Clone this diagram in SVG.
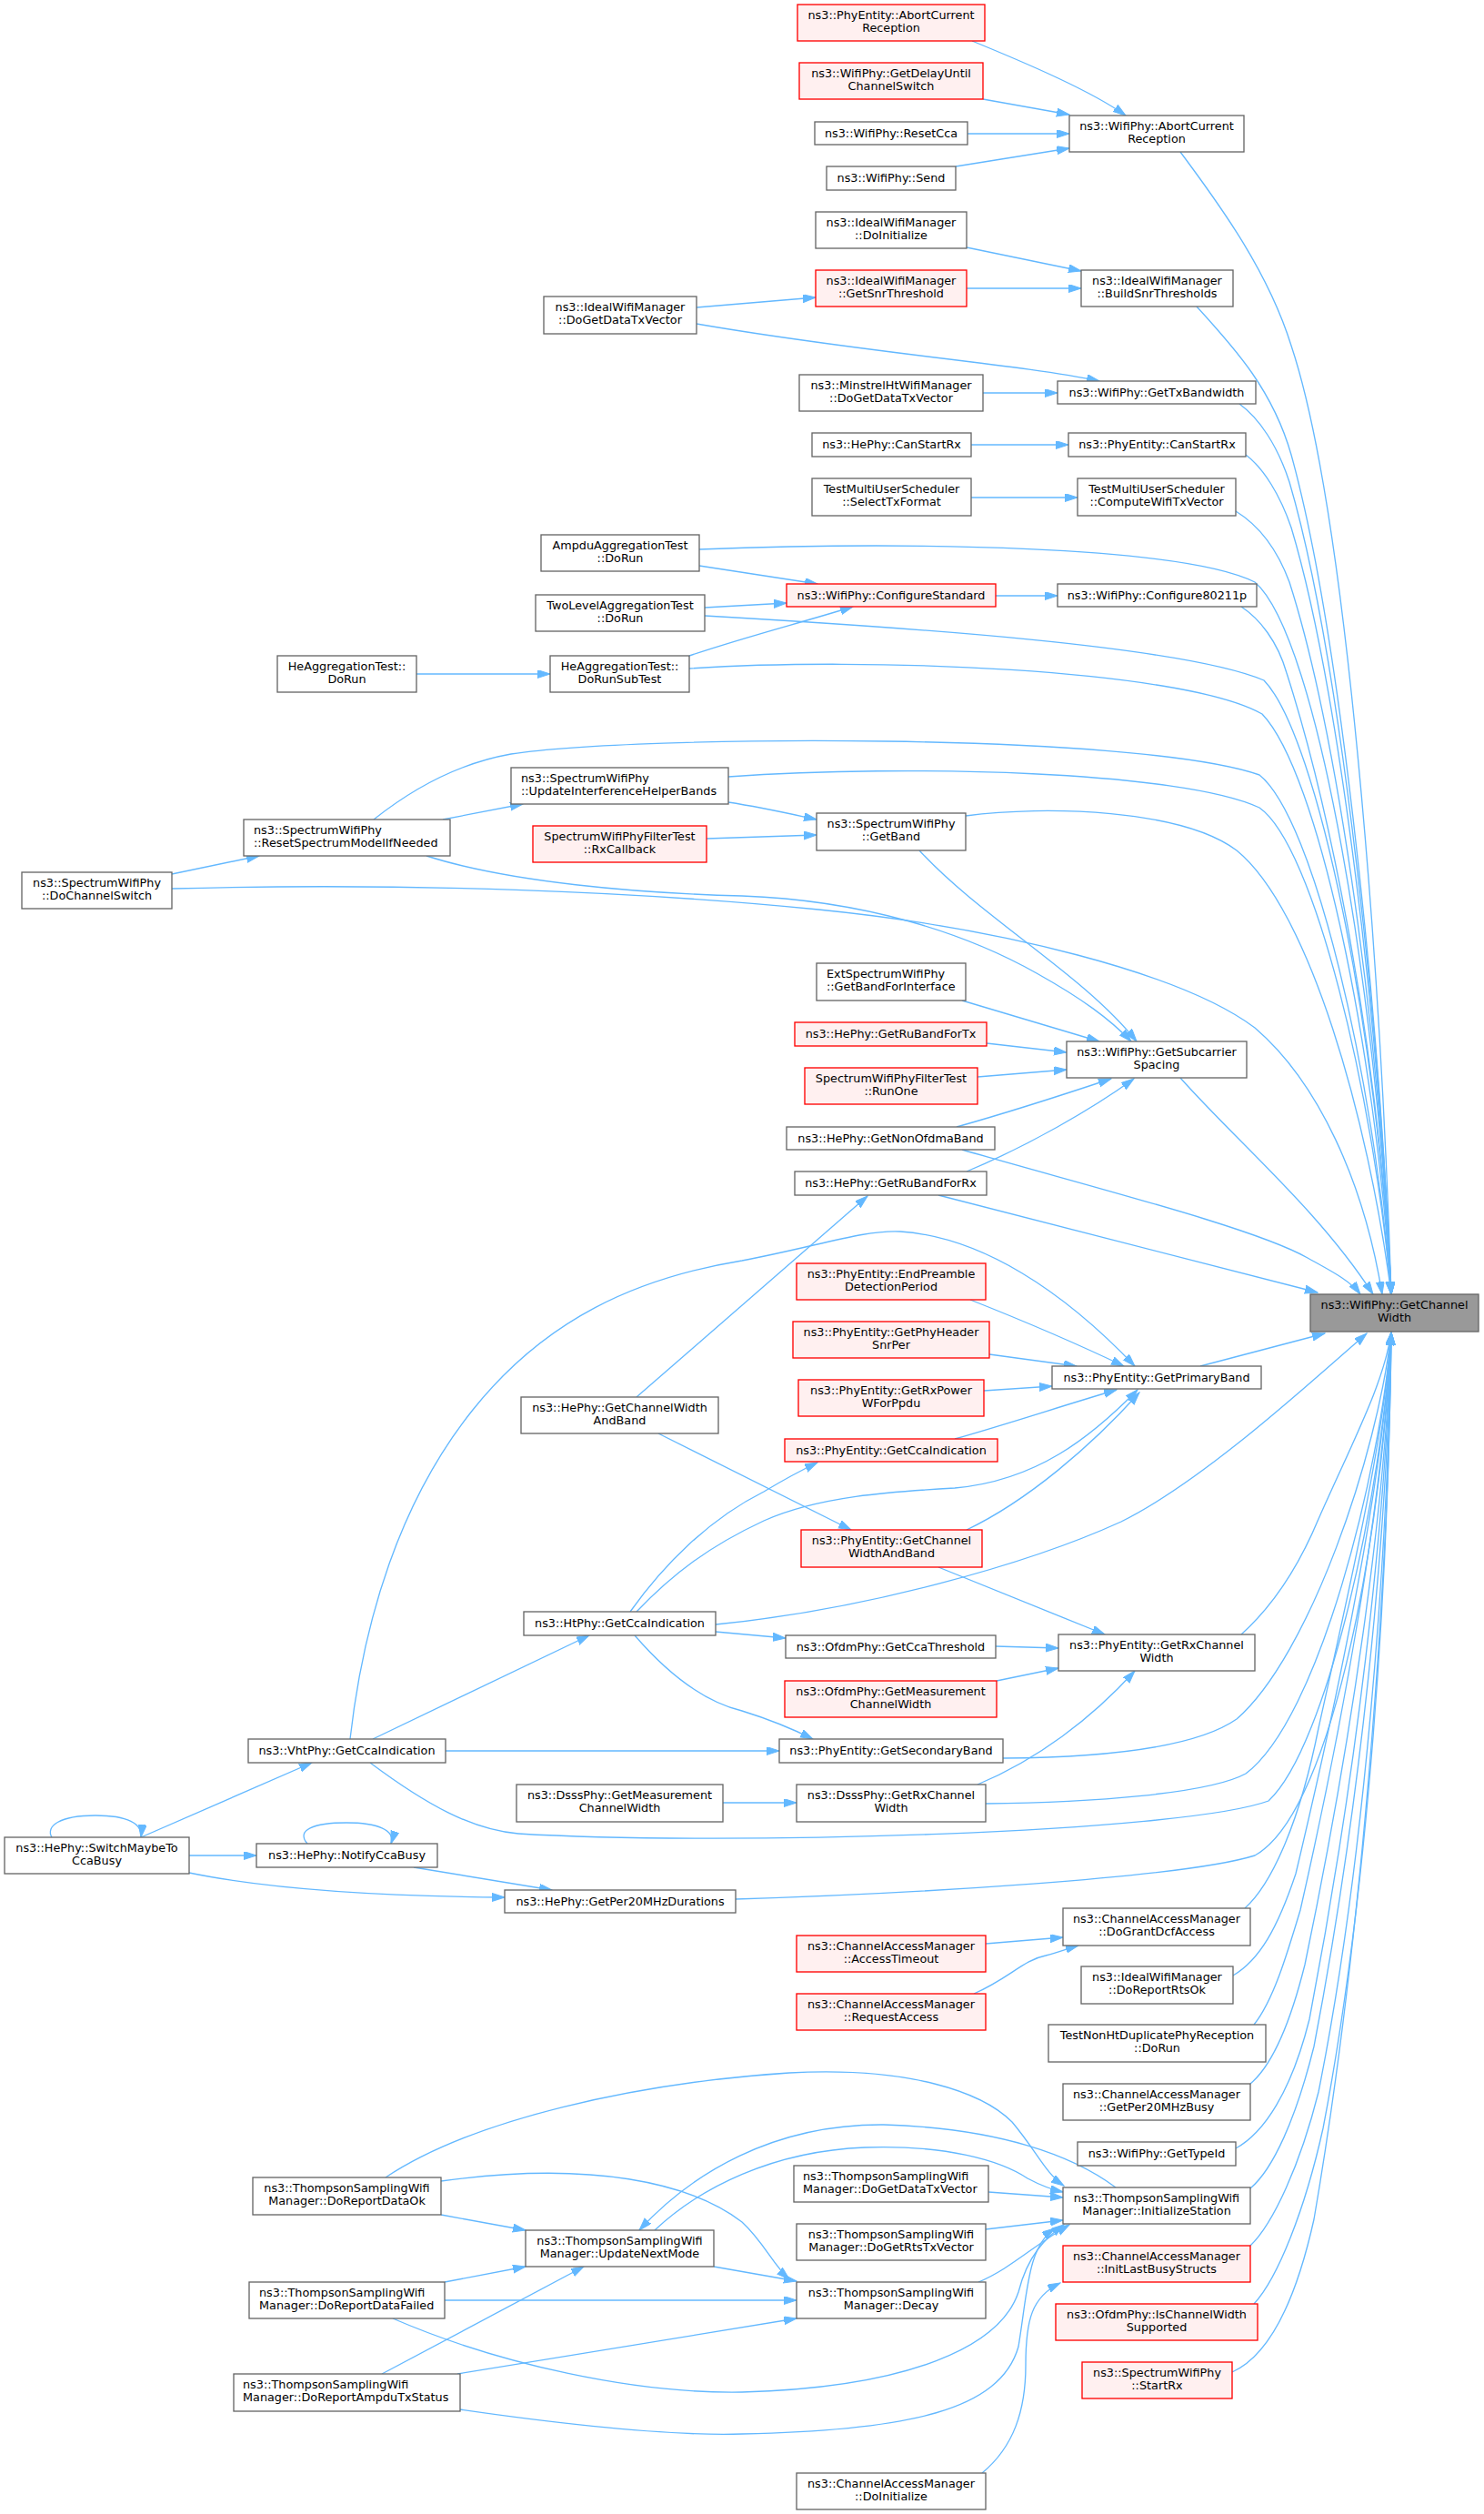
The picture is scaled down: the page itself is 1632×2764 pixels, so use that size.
<svg xmlns="http://www.w3.org/2000/svg" width="1632" height="2764" viewBox="0 0 1632 2764">
<style>
.n rect{fill:#ffffff;stroke:#666666;stroke-width:1.33}
.r rect{fill:#fff0f0;stroke:#ff0000;stroke-width:1.33}
.g rect{fill:#999999;stroke:#666666;stroke-width:1.33}
text{font-family:"DejaVu Sans","Liberation Sans",Arial,sans-serif;font-size:12.8px;fill:#000000;text-anchor:middle}
text.l{text-anchor:start}
#edges path{fill:none;stroke:#63b8ff;stroke-width:1.33;marker-end:url(#ah)}
</style>
<defs>
<marker id="ah" markerUnits="userSpaceOnUse" markerWidth="15" markerHeight="10" refX="14" refY="4.5" orient="auto" viewBox="0 0 15 10"><path d="M0,0 L14,4.5 L0,9 z" fill="#63b8ff" stroke="#63b8ff" stroke-width="1"/></marker>
</defs>
<rect x="0" y="0" width="1632" height="2764" fill="#ffffff"/>
<g id="edges">
<path d="M1298,167 C1345,230 1395,300 1420,380 C1480,560 1518,1050 1530,1423"/>
<path d="M1316,337 C1360,385 1400,430 1420,500 C1470,680 1515,1080 1530,1423"/>
<path d="M1363,444 C1385,460 1405,490 1418,530 C1468,700 1515,1080 1530,1423"/>
<path d="M1370,500 C1390,515 1408,545 1420,580 C1468,740 1515,1090 1530,1423"/>
<path d="M1359,562 C1385,578 1405,605 1418,640 C1466,790 1515,1100 1530,1423"/>
<path d="M769,604 C1000,595 1300,600 1380,640 C1450,700 1515,1100 1530,1423"/>
<path d="M1365,667 C1385,680 1405,705 1415,740 C1460,880 1515,1140 1530,1423"/>
<path d="M775,677 C1000,690 1300,710 1390,748 C1450,810 1515,1140 1530,1423"/>
<path d="M758,735 C950,722 1300,735 1388,785 C1450,850 1512,1150 1530,1423"/>
<path d="M411,901 C450,870 500,840 562,829 C700,808 1250,805 1385,852 C1445,900 1510,1180 1530,1423"/>
<path d="M801,854 C1000,840 1300,848 1385,888 C1445,930 1510,1200 1530,1423"/>
<path d="M1062,897 C1150,885 1300,890 1360,935 C1440,1000 1505,1230 1530,1423"/>
<path d="M189,977 C450,970 700,980 900,1000 C1100,1020 1300,1070 1380,1130 C1450,1190 1500,1300 1520,1423"/>
<path d="M1298,1185 C1360,1255 1450,1330 1510,1423"/>
<path d="M1058,1264 C1200,1305 1380,1350 1438,1383 C1465,1398 1485,1408 1496,1423"/>
<path d="M1032,1314 L1449,1421"/>
<path d="M1320,1502 L1457,1466"/>
<path d="M787,1786 C950,1770 1130,1720 1233,1673 C1320,1630 1430,1530 1503,1466"/>
<path d="M1365,1797 C1395,1770 1425,1730 1450,1670 C1490,1580 1522,1520 1530,1465"/>
<path d="M1103,1933 C1230,1932 1320,1918 1360,1890 C1440,1820 1515,1600 1530,1465"/>
<path d="M1084,1983 C1200,1982 1330,1972 1370,1950 C1450,1890 1518,1620 1530,1465"/>
<path d="M407,1938 C470,1985 520,2012 570,2016 C800,2030 1300,2015 1395,1980 C1460,1920 1520,1640 1530,1465"/>
<path d="M809,2088 C1000,2082 1300,2065 1380,2040 C1470,1990 1522,1660 1530,1465"/>
<path d="M1369,2098 C1400,2070 1430,2000 1450,1900 C1490,1720 1522,1580 1530,1465"/>
<path d="M1356,2172 C1385,2155 1405,2120 1425,2060 C1475,1850 1522,1620 1530,1465"/>
<path d="M1379,2226 C1400,2200 1415,2150 1430,2100 C1480,1880 1522,1640 1530,1465"/>
<path d="M1375,2291 C1400,2270 1420,2220 1435,2160 C1485,1920 1524,1660 1530,1465"/>
<path d="M1359,2362 C1390,2345 1420,2300 1440,2220 C1490,1960 1524,1680 1530,1465"/>
<path d="M1375,2406 C1400,2385 1425,2330 1445,2250 C1495,1990 1525,1700 1530,1465"/>
<path d="M1375,2469 C1400,2445 1430,2380 1450,2300 C1500,2050 1526,1720 1530,1465"/>
<path d="M1379,2533 C1405,2505 1435,2430 1455,2340 C1505,2080 1527,1740 1530,1465"/>
<path d="M1355,2608 C1395,2590 1425,2530 1445,2440 C1495,2150 1527,1760 1530,1465"/>
<path d="M1069,45 C1130,70 1200,100 1238,127"/>
<path d="M1081,109 L1176,126"/>
<path d="M1064,147 L1176,147"/>
<path d="M1051,183 L1176,163"/>
<path d="M1063,272 L1189,298"/>
<path d="M1063,317 L1189,317"/>
<path d="M766,338 L897,327"/>
<path d="M766,356 C950,388 1120,400 1209,419"/>
<path d="M1081,432 L1163,432"/>
<path d="M1068,489 L1175,489"/>
<path d="M1068,547 L1185,547"/>
<path d="M769,622 C820,630 860,636 899,642"/>
<path d="M775,668 L865,663"/>
<path d="M758,721 C820,700 880,685 938,667"/>
<path d="M458,741 L605,741"/>
<path d="M1095,655 L1163,655"/>
<path d="M487,901 L575,884"/>
<path d="M189,961 L285,941"/>
<path d="M801,882 C840,888 870,895 898,901"/>
<path d="M777,922 C830,920 870,919 898,918"/>
<path d="M1011,935 C1080,1010 1190,1070 1250,1145"/>
<path d="M469,941 C560,970 700,982 816,985 C950,990 1060,1025 1140,1070 C1190,1098 1220,1120 1244,1145"/>
<path d="M1058,1100 L1209,1145"/>
<path d="M1085,1147 L1173,1157"/>
<path d="M1075,1184 L1173,1176"/>
<path d="M1052,1239 C1120,1220 1180,1200 1222,1186"/>
<path d="M1063,1288 C1130,1260 1200,1220 1247,1186"/>
<path d="M700,1536 L954,1315"/>
<path d="M385,1912 C400,1780 440,1650 520,1550 C600,1450 700,1405 816,1386 C900,1370 950,1352 990,1354 C1080,1360 1170,1420 1248,1502"/>
<path d="M1067,1429 C1120,1450 1190,1480 1236,1502"/>
<path d="M1088,1489 L1184,1502"/>
<path d="M1082,1529 L1157,1524"/>
<path d="M1050,1582 C1110,1565 1170,1545 1228,1528"/>
<path d="M700,1772 C740,1730 780,1700 840,1672 C900,1645 980,1640 1050,1636 C1140,1628 1200,1580 1251,1528"/>
<path d="M1063,1682 C1130,1650 1200,1590 1253,1531"/>
<path d="M693,1772 C730,1720 780,1670 840,1640 C860,1628 880,1617 899,1608"/>
<path d="M724,1576 L936,1682"/>
<path d="M1032,1723 L1215,1797"/>
<path d="M1095,1810 L1164,1812"/>
<path d="M787,1794 L864,1801"/>
<path d="M1096,1848 L1164,1834"/>
<path d="M410,1912 L648,1798"/>
<path d="M698,1798 C730,1835 770,1870 816,1881 C845,1890 870,1900 894,1912"/>
<path d="M490,1925 L857,1925"/>
<path d="M1075,1962 C1140,1935 1200,1890 1248,1837"/>
<path d="M795,1982 L876,1982"/>
<path d="M155,2020 L343,1938"/>
<path d="M57,2020 C50,2008 65,1996 105,1996 C140,1996 157,2005 155,2020"/>
<path d="M208,2040 L282,2040"/>
<path d="M338,2027 C325,2012 345,2004 381,2004 C415,2004 435,2012 430,2027"/>
<path d="M455,2053 L607,2078"/>
<path d="M208,2059 C300,2078 430,2085 555,2086"/>
<path d="M1084,2137 L1169,2130"/>
<path d="M1071,2192 C1110,2175 1125,2155 1150,2150 C1165,2146 1175,2142 1186,2139"/>
<path d="M424,2394 C520,2330 700,2290 868,2279 C1000,2272 1080,2300 1113,2333 C1140,2365 1150,2390 1170,2403"/>
<path d="M485,2435 L578,2452"/>
<path d="M485,2398 C650,2375 760,2400 816,2443 C840,2465 850,2490 868,2506"/>
<path d="M785,2492 L876,2508"/>
<path d="M720,2452 C770,2405 850,2365 951,2361 C1040,2358 1100,2375 1130,2395 C1145,2403 1155,2407 1169,2410"/>
<path d="M1227,2405 C1180,2370 1100,2340 972,2336 C850,2335 760,2390 703,2452"/>
<path d="M489,2509 L578,2492"/>
<path d="M489,2529 L876,2529"/>
<path d="M432,2549 C550,2600 700,2632 816,2630 C1000,2625 1100,2580 1120,2520 C1130,2480 1150,2460 1170,2446"/>
<path d="M420,2610 L642,2492"/>
<path d="M503,2610 L876,2549"/>
<path d="M505,2649 C650,2670 750,2678 816,2676 C1000,2672 1100,2650 1120,2580 C1130,2520 1130,2470 1160,2450"/>
<path d="M1076,2509 C1110,2495 1135,2470 1176,2446"/>
<path d="M1087,2410 L1169,2416"/>
<path d="M1084,2451 L1169,2441"/>
<path d="M1080,2719 C1115,2690 1128,2650 1128,2600 C1128,2550 1135,2525 1166,2510"/>
</g>
<g id="n_pe_abort" class="r"><rect x="877" y="5" width="206" height="40"/><text x="980" y="21">ns3::PhyEntity::AbortCurrent</text><text x="980" y="35.3">Reception</text></g>
<g id="n_delay" class="r"><rect x="879" y="69" width="202" height="40"/><text x="980" y="85">ns3::WifiPhy::GetDelayUntil</text><text x="980" y="99.3">ChannelSwitch</text></g>
<g id="n_resetcca" class="n"><rect x="896" y="134" width="168" height="25"/><text x="980" y="150.5">ns3::WifiPhy::ResetCca</text></g>
<g id="n_send" class="n"><rect x="909" y="183" width="142" height="26"/><text x="980" y="199.8">ns3::WifiPhy::Send</text></g>
<g id="n_wp_abort" class="n"><rect x="1176" y="127" width="192" height="40"/><text x="1272" y="143">ns3::WifiPhy::AbortCurrent</text><text x="1272" y="157.3">Reception</text></g>
<g id="n_ideal_init" class="n"><rect x="897" y="233" width="166" height="40"/><text x="980" y="249">ns3::IdealWifiManager</text><text x="980" y="263.3">::DoInitialize</text></g>
<g id="n_ideal_snr" class="r"><rect x="897" y="297" width="166" height="40"/><text x="980" y="313">ns3::IdealWifiManager</text><text x="980" y="327.3">::GetSnrThreshold</text></g>
<g id="n_ideal_build" class="n"><rect x="1189" y="297" width="167" height="40"/><text x="1272.5" y="313">ns3::IdealWifiManager</text><text x="1272.5" y="327.3">::BuildSnrThresholds</text></g>
<g id="n_minstrel" class="n"><rect x="879" y="412" width="202" height="40"/><text x="980" y="428">ns3::MinstrelHtWifiManager</text><text x="980" y="442.3">::DoGetDataTxVector</text></g>
<g id="n_txbw" class="n"><rect x="1163" y="419" width="218" height="25"/><text x="1272" y="435.5">ns3::WifiPhy::GetTxBandwidth</text></g>
<g id="n_ideal_getdata" class="n"><rect x="598" y="326" width="168" height="41"/><text x="682" y="342">ns3::IdealWifiManager</text><text x="682" y="356.3">::DoGetDataTxVector</text></g>
<g id="n_he_canstart" class="n"><rect x="893" y="476" width="175" height="26"/><text x="980.5" y="492.8">ns3::HePhy::CanStartRx</text></g>
<g id="n_pe_canstart" class="n"><rect x="1175" y="476" width="195" height="26"/><text x="1272.5" y="492.8">ns3::PhyEntity::CanStartRx</text></g>
<g id="n_selecttx" class="n"><rect x="893" y="526" width="175" height="41"/><text x="980.5" y="542">TestMultiUserScheduler</text><text x="980.5" y="556.3">::SelectTxFormat</text></g>
<g id="n_compute" class="n"><rect x="1185" y="526" width="174" height="41"/><text x="1272" y="542">TestMultiUserScheduler</text><text x="1272" y="556.3">::ComputeWifiTxVector</text></g>
<g id="n_configstd" class="r"><rect x="865" y="642" width="230" height="25"/><text x="980" y="658.5">ns3::WifiPhy::ConfigureStandard</text></g>
<g id="n_cfg80211p" class="n"><rect x="1163" y="642" width="219" height="25"/><text x="1272.5" y="658.5">ns3::WifiPhy::Configure80211p</text></g>
<g id="n_getband" class="n"><rect x="898" y="894" width="164" height="41"/><text x="980" y="910">ns3::SpectrumWifiPhy</text><text x="980" y="924.3">::GetBand</text></g>
<g id="n_ampdu" class="n"><rect x="595" y="588" width="174" height="40"/><text x="682" y="604">AmpduAggregationTest</text><text x="682" y="618.3">::DoRun</text></g>
<g id="n_twolevel" class="n"><rect x="589" y="654" width="186" height="40"/><text x="682" y="670">TwoLevelAggregationTest</text><text x="682" y="684.3">::DoRun</text></g>
<g id="n_heagg_run" class="n"><rect x="305" y="721" width="153" height="40"/><text x="381.5" y="737">HeAggregationTest::</text><text x="381.5" y="751.3">DoRun</text></g>
<g id="n_heagg_sub" class="n"><rect x="605" y="721" width="153" height="40"/><text x="681.5" y="737">HeAggregationTest::</text><text x="681.5" y="751.3">DoRunSubTest</text></g>
<g id="n_updinterf" class="n"><rect x="562" y="844" width="239" height="40"/><text class="l" x="573" y="860">ns3::SpectrumWifiPhy</text><text class="l" x="573" y="874.3">::UpdateInterferenceHelperBands</text></g>
<g id="n_resetspec" class="n"><rect x="268" y="901" width="227" height="40"/><text class="l" x="279" y="917">ns3::SpectrumWifiPhy</text><text class="l" x="279" y="931.3">::ResetSpectrumModelIfNeeded</text></g>
<g id="n_rxcallback" class="r"><rect x="586" y="908" width="191" height="40"/><text x="681.5" y="924">SpectrumWifiPhyFilterTest</text><text x="681.5" y="938.3">::RxCallback</text></g>
<g id="n_dochsw" class="n"><rect x="24" y="959" width="165" height="40"/><text x="106.5" y="975">ns3::SpectrumWifiPhy</text><text x="106.5" y="989.3">::DoChannelSwitch</text></g>
<g id="n_extspec" class="n"><rect x="898" y="1059" width="164" height="41"/><text class="l" x="909" y="1075">ExtSpectrumWifiPhy</text><text class="l" x="909" y="1089.3">::GetBandForInterface</text></g>
<g id="n_rubandtx" class="r"><rect x="874" y="1124" width="211" height="26"/><text x="979.5" y="1140.8">ns3::HePhy::GetRuBandForTx</text></g>
<g id="n_runone" class="r"><rect x="885" y="1174" width="190" height="40"/><text x="980" y="1190">SpectrumWifiPhyFilterTest</text><text x="980" y="1204.3">::RunOne</text></g>
<g id="n_subcarrier" class="n"><rect x="1173" y="1145" width="198" height="40"/><text x="1272" y="1161">ns3::WifiPhy::GetSubcarrier</text><text x="1272" y="1175.3">Spacing</text></g>
<g id="n_nonofdma" class="n"><rect x="865" y="1239" width="229" height="25"/><text x="979.5" y="1255.5">ns3::HePhy::GetNonOfdmaBand</text></g>
<g id="n_rubandrx" class="n"><rect x="874" y="1288" width="211" height="26"/><text x="979.5" y="1304.8">ns3::HePhy::GetRuBandForRx</text></g>
<g id="n_getchw" class="g"><rect x="1441" y="1423" width="185" height="41"/><text x="1533.5" y="1439">ns3::WifiPhy::GetChannel</text><text x="1533.5" y="1453.3">Width</text></g>
<g id="n_endpre" class="r"><rect x="876" y="1389" width="208" height="40"/><text x="980" y="1405">ns3::PhyEntity::EndPreamble</text><text x="980" y="1419.3">DetectionPeriod</text></g>
<g id="n_phyhdr" class="r"><rect x="872" y="1453" width="216" height="40"/><text x="980" y="1469">ns3::PhyEntity::GetPhyHeader</text><text x="980" y="1483.3">SnrPer</text></g>
<g id="n_rxpower" class="r"><rect x="878" y="1517" width="204" height="40"/><text x="980" y="1533">ns3::PhyEntity::GetRxPower</text><text x="980" y="1547.3">WForPpdu</text></g>
<g id="n_primary" class="n"><rect x="1157" y="1502" width="230" height="25"/><text x="1272" y="1518.5">ns3::PhyEntity::GetPrimaryBand</text></g>
<g id="n_pe_cca" class="r"><rect x="863" y="1582" width="234" height="25"/><text x="980" y="1598.5">ns3::PhyEntity::GetCcaIndication</text></g>
<g id="n_pe_chwband" class="r"><rect x="881" y="1682" width="199" height="41"/><text x="980.5" y="1698">ns3::PhyEntity::GetChannel</text><text x="980.5" y="1712.3">WidthAndBand</text></g>
<g id="n_ofdm_ccath" class="n"><rect x="864" y="1798" width="231" height="25"/><text x="979.5" y="1814.5">ns3::OfdmPhy::GetCcaThreshold</text></g>
<g id="n_pe_rxchw" class="n"><rect x="1164" y="1797" width="216" height="40"/><text x="1272" y="1813">ns3::PhyEntity::GetRxChannel</text><text x="1272" y="1827.3">Width</text></g>
<g id="n_he_chwband" class="n"><rect x="573" y="1536" width="217" height="40"/><text x="681.5" y="1552">ns3::HePhy::GetChannelWidth</text><text x="681.5" y="1566.3">AndBand</text></g>
<g id="n_ht_cca" class="n"><rect x="576" y="1772" width="211" height="26"/><text x="681.5" y="1788.8">ns3::HtPhy::GetCcaIndication</text></g>
<g id="n_ofdm_meas" class="r"><rect x="863" y="1848" width="233" height="40"/><text x="979.5" y="1864">ns3::OfdmPhy::GetMeasurement</text><text x="979.5" y="1878.3">ChannelWidth</text></g>
<g id="n_secondary" class="n"><rect x="857" y="1912" width="246" height="26"/><text x="980" y="1928.8">ns3::PhyEntity::GetSecondaryBand</text></g>
<g id="n_dsss_rx" class="n"><rect x="876" y="1962" width="208" height="41"/><text x="980" y="1978">ns3::DsssPhy::GetRxChannel</text><text x="980" y="1992.3">Width</text></g>
<g id="n_dcf" class="n"><rect x="1169" y="2098" width="206" height="41"/><text x="1272" y="2114">ns3::ChannelAccessManager</text><text x="1272" y="2128.3">::DoGrantDcfAccess</text></g>
<g id="n_timeout" class="r"><rect x="876" y="2128" width="208" height="40"/><text x="980" y="2144">ns3::ChannelAccessManager</text><text x="980" y="2158.3">::AccessTimeout</text></g>
<g id="n_rtsok" class="n"><rect x="1189" y="2162" width="167" height="41"/><text x="1272.5" y="2178">ns3::IdealWifiManager</text><text x="1272.5" y="2192.3">::DoReportRtsOk</text></g>
<g id="n_request" class="r"><rect x="876" y="2192" width="208" height="40"/><text x="980" y="2208">ns3::ChannelAccessManager</text><text x="980" y="2222.3">::RequestAccess</text></g>
<g id="n_testnonht" class="n"><rect x="1153" y="2226" width="239" height="41"/><text x="1272.5" y="2242">TestNonHtDuplicatePhyReception</text><text x="1272.5" y="2256.3">::DoRun</text></g>
<g id="n_per20busy" class="n"><rect x="1169" y="2291" width="206" height="40"/><text x="1272" y="2307">ns3::ChannelAccessManager</text><text x="1272" y="2321.3">::GetPer20MHzBusy</text></g>
<g id="n_vht_cca" class="n"><rect x="273" y="1912" width="217" height="26"/><text x="381.5" y="1928.8">ns3::VhtPhy::GetCcaIndication</text></g>
<g id="n_dsss_meas" class="n"><rect x="568" y="1962" width="227" height="41"/><text x="681.5" y="1978">ns3::DsssPhy::GetMeasurement</text><text x="681.5" y="1992.3">ChannelWidth</text></g>
<g id="n_switchcca" class="n"><rect x="5" y="2020" width="203" height="40"/><text x="106.5" y="2036">ns3::HePhy::SwitchMaybeTo</text><text x="106.5" y="2050.3">CcaBusy</text></g>
<g id="n_notifycca" class="n"><rect x="282" y="2027" width="199" height="26"/><text x="381.5" y="2043.8">ns3::HePhy::NotifyCcaBusy</text></g>
<g id="n_per20dur" class="n"><rect x="555" y="2078" width="254" height="25"/><text x="682" y="2094.5">ns3::HePhy::GetPer20MHzDurations</text></g>
<g id="n_typeid" class="n"><rect x="1185" y="2355" width="174" height="26"/><text x="1272" y="2371.8">ns3::WifiPhy::GetTypeId</text></g>
<g id="n_ts_getdata" class="n"><rect x="873" y="2381" width="214" height="40"/><text class="l" x="883" y="2397">ns3::ThompsonSamplingWifi</text><text class="l" x="883" y="2411.3">Manager::DoGetDataTxVector</text></g>
<g id="n_ts_init" class="n"><rect x="1169" y="2405" width="206" height="40"/><text x="1272" y="2421">ns3::ThompsonSamplingWifi</text><text x="1272" y="2435.3">Manager::InitializeStation</text></g>
<g id="n_ts_getrts" class="n"><rect x="876" y="2445" width="208" height="40"/><text x="980" y="2461">ns3::ThompsonSamplingWifi</text><text x="980" y="2475.3">Manager::DoGetRtsTxVector</text></g>
<g id="n_initlast" class="r"><rect x="1169" y="2469" width="206" height="40"/><text x="1272" y="2485">ns3::ChannelAccessManager</text><text x="1272" y="2499.3">::InitLastBusyStructs</text></g>
<g id="n_ts_decay" class="n"><rect x="876" y="2509" width="208" height="40"/><text x="980" y="2525">ns3::ThompsonSamplingWifi</text><text x="980" y="2539.3">Manager::Decay</text></g>
<g id="n_ofdm_iscw" class="r"><rect x="1161" y="2533" width="222" height="40"/><text x="1272" y="2549">ns3::OfdmPhy::IsChannelWidth</text><text x="1272" y="2563.3">Supported</text></g>
<g id="n_startrx" class="r"><rect x="1190" y="2597" width="165" height="40"/><text x="1272.5" y="2613">ns3::SpectrumWifiPhy</text><text x="1272.5" y="2627.3">::StartRx</text></g>
<g id="n_cam_init" class="n"><rect x="876" y="2719" width="208" height="40"/><text x="980" y="2735">ns3::ChannelAccessManager</text><text x="980" y="2749.3">::DoInitialize</text></g>
<g id="n_ts_dataok" class="n"><rect x="278" y="2394" width="207" height="41"/><text x="381.5" y="2410">ns3::ThompsonSamplingWifi</text><text x="381.5" y="2424.3">Manager::DoReportDataOk</text></g>
<g id="n_ts_update" class="n"><rect x="578" y="2452" width="207" height="40"/><text x="681.5" y="2468">ns3::ThompsonSamplingWifi</text><text x="681.5" y="2482.3">Manager::UpdateNextMode</text></g>
<g id="n_ts_datafail" class="n"><rect x="274" y="2509" width="215" height="40"/><text class="l" x="285" y="2525">ns3::ThompsonSamplingWifi</text><text class="l" x="285" y="2539.3">Manager::DoReportDataFailed</text></g>
<g id="n_ts_ampdu" class="n"><rect x="257" y="2610" width="249" height="41"/><text class="l" x="267" y="2626">ns3::ThompsonSamplingWifi</text><text class="l" x="267" y="2640.3">Manager::DoReportAmpduTxStatus</text></g>
</svg>
